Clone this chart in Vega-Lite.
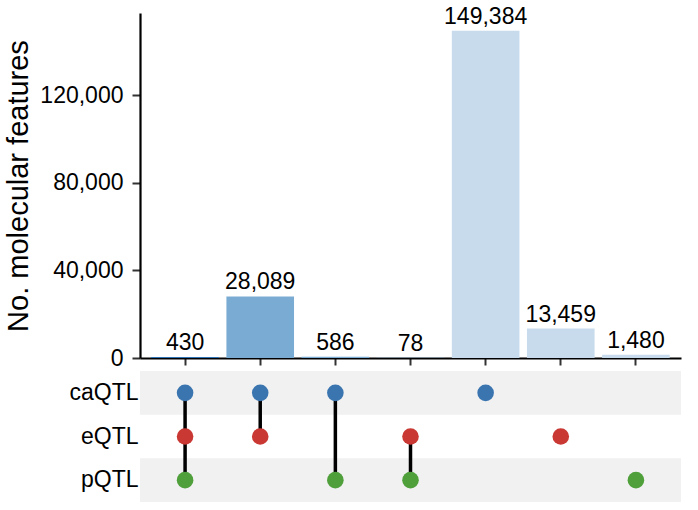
{
  "$schema": "https://vega.github.io/schema/vega-lite/v6.json",
  "padding": {"left": 4, "top": 5, "right": 5, "bottom": 5},
  "datasets": {
    "combos": [
      {"combo": 1, "count": 430, "degree": "triple"},
      {"combo": 2, "count": 28089, "degree": "pair"},
      {"combo": 3, "count": 586, "degree": "pair"},
      {"combo": 4, "count": 78, "degree": "pair"},
      {"combo": 5, "count": 149384, "degree": "single"},
      {"combo": 6, "count": 13459, "degree": "single"},
      {"combo": 7, "count": 1480, "degree": "single"}
    ],
    "members": [
      {"combo": 1, "set": "caQTL"}, {"combo": 1, "set": "eQTL"}, {"combo": 1, "set": "pQTL"},
      {"combo": 2, "set": "caQTL"}, {"combo": 2, "set": "eQTL"},
      {"combo": 3, "set": "caQTL"}, {"combo": 3, "set": "pQTL"},
      {"combo": 4, "set": "eQTL"}, {"combo": 4, "set": "pQTL"},
      {"combo": 5, "set": "caQTL"},
      {"combo": 6, "set": "eQTL"},
      {"combo": 7, "set": "pQTL"}
    ],
    "links": [
      {"combo": 1, "top": "caQTL", "bottom": "pQTL"},
      {"combo": 2, "top": "caQTL", "bottom": "eQTL"},
      {"combo": 3, "top": "caQTL", "bottom": "pQTL"},
      {"combo": 4, "top": "eQTL", "bottom": "pQTL"}
    ],
    "stripes": [
      {"set": "caQTL"}, {"set": "pQTL"}
    ]
  },
  "spacing": 1,
  "resolve": {"scale": {"color": "independent"}},
  "vconcat": [
    {
      "width": 541,
      "height": 345,
      "data": {"name": "combos"},
      "encoding": {
        "x": {
          "field": "combo", "type": "ordinal",
          "scale": {"paddingInner": 0.1, "paddingOuter": 0.15},
          "axis": {
            "labels": false, "title": null, "domainColor": "black", "domainWidth": 2.2,
            "tickColor": "#333", "tickWidth": 2, "tickSize": 7
          }
        },
        "y": {
          "field": "count", "type": "quantitative",
          "scale": {"domain": [0, 157500], "nice": false},
          "axis": {
            "values": [0, 40000, 80000, 120000],
            "labelExpr": "format(datum.value, ',')",
            "grid": false,
            "title": "No. molecular features", "titleFontSize": 29, "titleFontWeight": "normal",
            "titleColor": "black", "titlePadding": 6,
            "labelFontSize": 23, "labelColor": "black", "labelPadding": 9,
            "domainColor": "black", "domainWidth": 2.2,
            "tickColor": "#333", "tickWidth": 2, "tickSize": 8
          }
        }
      },
      "layer": [
        {
          "mark": {"type": "bar"},
          "encoding": {
            "color": {
              "field": "degree", "type": "nominal", "legend": null,
              "scale": {"domain": ["single", "pair", "triple"], "range": ["#c8dbed", "#7aacd3", "#2f73b4"]}
            }
          }
        },
        {
          "mark": {"type": "text", "baseline": "alphabetic", "dy": -7, "fontSize": 23, "color": "black"},
          "encoding": {"text": {"field": "count", "type": "quantitative", "format": ","}}
        }
      ]
    },
    {
      "width": 541,
      "height": 131,
      "encoding": {
        "y": {
          "field": "set", "type": "ordinal",
          "scale": {"type": "band", "domain": ["caQTL", "eQTL", "pQTL"], "paddingInner": 0, "paddingOuter": 0},
          "axis": {
            "title": null, "domain": false, "ticks": false,
            "labelFontSize": 23, "labelColor": "black", "labelPadding": 2
          }
        }
      },
      "layer": [
        {
          "data": {"name": "stripes"},
          "mark": {"type": "rect", "color": "#f1f1f1"},
          "encoding": {}
        },
        {
          "data": {"name": "links"},
          "mark": {"type": "rule", "color": "black", "strokeWidth": 3.5},
          "encoding": {
            "x": {"field": "combo", "type": "ordinal", "scale": {"type": "band", "domain": [1, 2, 3, 4, 5, 6, 7], "paddingInner": 0.1, "paddingOuter": 0.15}, "axis": null},
            "y": {"field": "top", "type": "ordinal"},
            "y2": {"field": "bottom"}
          }
        },
        {
          "data": {"name": "members"},
          "mark": {"type": "circle", "opacity": 1, "size": 275},
          "encoding": {
            "x": {"field": "combo", "type": "ordinal", "scale": {"type": "band", "domain": [1, 2, 3, 4, 5, 6, 7], "paddingInner": 0.1, "paddingOuter": 0.15}, "axis": null},
            "y": {"field": "set", "type": "ordinal"},
            "color": {
              "field": "set", "type": "nominal", "legend": null,
              "scale": {"domain": ["caQTL", "eQTL", "pQTL"], "range": ["#3a75b0", "#c93833", "#4f9f3b"]}
            }
          }
        }
      ]
    }
  ],
  "config": {
    "font": "Liberation Sans",
    "view": {"stroke": null},
    "axis": {"labelFont": "Liberation Sans", "titleFont": "Liberation Sans"}
  }
}
